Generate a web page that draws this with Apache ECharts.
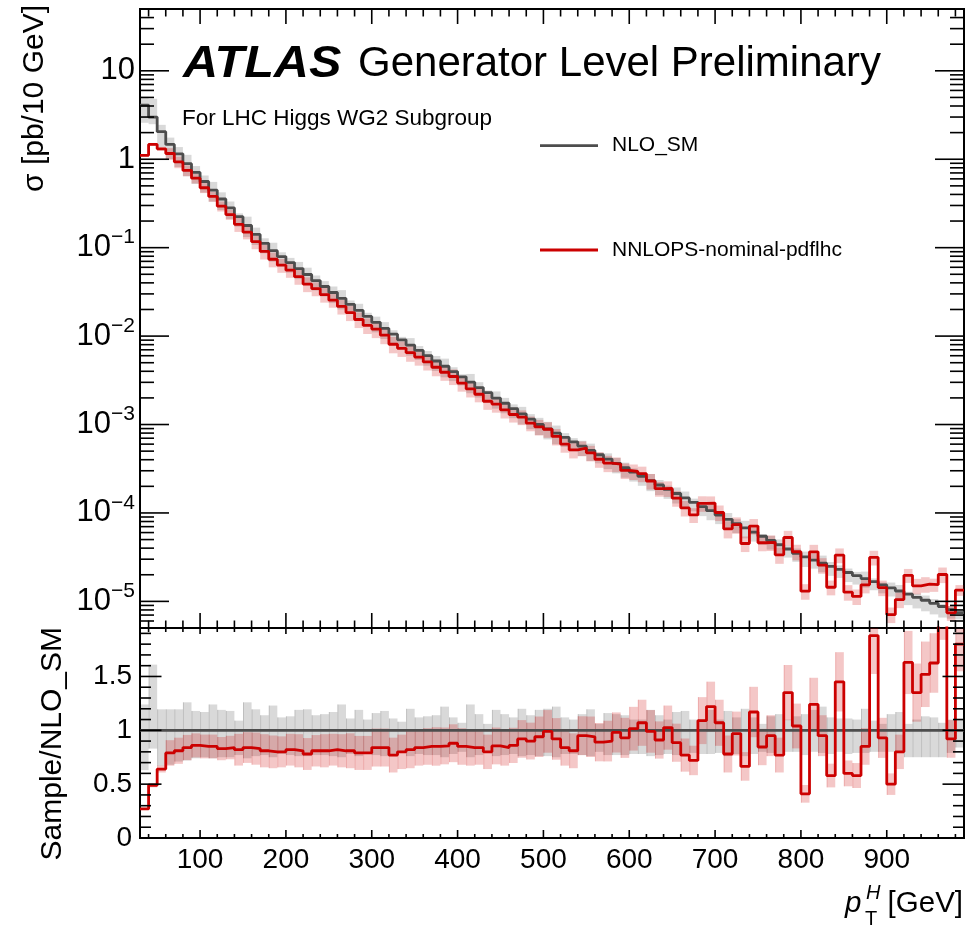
<!DOCTYPE html>
<html><head><meta charset="utf-8">
<script src="https://cdn.jsdelivr.net/npm/echarts@6/dist/echarts.min.js"></script>
<style>html,body{margin:0;padding:0;background:#fff}#c{width:969px;height:927px}</style>
</head><body><div id="c"></div>
<script>
// ---------------- data ----------------
const xMin = 30, xMax = 990, binWidth = 10;
// NLO_SM cross section per 10 GeV bin [pb/10 GeV], bins 30-40 ... 980-990
const nloSM = [4.1,3.0,2.05,1.47,1.15,0.89,0.71,0.56,0.447,0.355,
  0.282,0.224,0.178,0.141,0.112,0.0925,0.0792,0.0678,0.058,0.0497,
  0.0425,0.0364,0.0311,0.0267,0.0228,0.0195,0.0167,0.0143,0.0122,0.0105,
  0.00908,0.00791,0.00689,0.0060,0.00523,0.00456,0.00397,0.00346,0.00301,0.00262,
  0.00229,0.00199,0.00174,0.00151,0.00132,0.00115,0.00100,0.000893,0.000798,0.000714,
  0.000638,0.00057,0.000509,0.000455,0.000407,0.000364,0.000325,0.00029,0.00026,0.000232,
  0.000207,0.000185,0.000166,0.000148,0.000132,0.000118,0.000106,0.0000946,0.0000847,0.0000759,
  0.0000679,0.0000608,0.0000545,0.0000488,0.0000437,0.0000391,0.000035,0.0000318,0.0000293,0.000027,
  0.0000249,0.000023,0.0000212,0.0000196,0.0000181,0.0000167,0.0000154,0.0000142,0.0000131,0.0000121,
  0.0000111,0.0000103,0.0000095,0.00000875,0.00000807,0.00000745];
// NNLOPS-nominal-pdflhc / NLO_SM (lower panel)
const ratioNNLOPS = [0.27,0.49,0.64,0.79,0.81,0.84,0.86,0.85,0.85,0.83,
  0.84,0.82,0.84,0.83,0.81,0.80,0.80,0.82,0.81,0.78,
  0.81,0.81,0.82,0.81,0.81,0.79,0.79,0.84,0.84,0.77,
  0.80,0.82,0.84,0.85,0.85,0.855,0.88,0.85,0.84,0.84,
  0.80,0.855,0.84,0.86,0.92,0.90,0.94,0.99,0.92,0.84,
  0.81,0.95,0.94,0.89,0.90,0.98,0.93,1.015,1.07,0.99,
  0.91,1.025,0.885,0.77,0.72,1.09,1.22,1.07,0.78,0.97,
  0.665,1.17,0.845,0.95,0.77,1.35,1.04,0.41,1.24,0.95,
  0.58,1.45,0.60,0.58,0.85,1.88,0.93,0.50,0.80,1.63,
  1.35,1.52,1.625,2.3,0.92,1.80];
// NLO_SM uncertainty band, relative to NLO_SM (upper / lower edge)
const nloBandUp = [1.24,1.61,1.195,1.195,1.195,1.26,1.18,1.17,1.24,1.19,
  1.18,1.09,1.26,1.195,1.14,1.23,1.12,1.13,1.19,1.195,
  1.14,1.15,1.17,1.24,1.11,1.19,1.10,1.16,1.18,1.11,
  1.08,1.20,1.12,1.13,1.14,1.22,1.12,1.07,1.24,1.15,
  1.06,1.19,1.15,1.12,1.20,1.14,1.19,1.20,1.22,1.12,
  1.10,1.15,1.195,1.06,1.16,1.15,1.14,1.10,1.10,1.19,
  1.14,1.10,1.17,1.18,1.10,1.10,1.19,1.10,1.18,1.12,
  1.20,1.12,1.06,1.13,1.15,1.10,1.13,1.15,1.19,1.22,
  1.12,1.11,1.11,1.10,1.20,1.09,1.06,1.15,1.17,1.06,
  1.10,1.13,1.12,1.07,1.10,1.10];
const nloBandDown = [0.63,0.83,0.67,0.68,0.71,0.72,0.74,0.75,0.74,0.75,
  0.75,0.77,0.74,0.76,0.77,0.75,0.78,0.77,0.76,0.76,
  0.77,0.77,0.76,0.75,0.78,0.76,0.78,0.77,0.76,0.78,
  0.79,0.76,0.78,0.77,0.77,0.75,0.78,0.80,0.75,0.77,
  0.80,0.76,0.77,0.78,0.76,0.77,0.76,0.76,0.75,0.78,
  0.78,0.77,0.76,0.80,0.77,0.77,0.77,0.78,0.78,0.76,
  0.77,0.78,0.77,0.78,0.79,0.78,0.78,0.79,0.76,0.78,
  0.76,0.78,0.80,0.79,0.79,0.80,0.80,0.77,0.80,0.79,
  0.78,0.80,0.78,0.79,0.79,0.80,0.80,0.80,0.80,0.75,
  0.75,0.75,0.75,0.75,0.79,0.84];
// NNLOPS relative uncertainty
const nnlopsRelErr = [0.03,0.04,0.05,0.15,0.15,0.14,0.13,0.13,0.13,0.13,
  0.13,0.18,0.17,0.18,0.19,0.19,0.18,0.18,0.19,0.19,
  0.18,0.19,0.18,0.19,0.20,0.20,0.20,0.21,0.21,0.21,
  0.20,0.21,0.20,0.20,0.21,0.20,0.20,0.20,0.20,0.19,
  0.20,0.20,0.20,0.19,0.19,0.19,0.20,0.20,0.21,0.20,
  0.20,0.19,0.20,0.20,0.21,0.19,0.20,0.20,0.20,0.20,
  0.19,0.20,0.20,0.20,0.19,0.20,0.19,0.20,0.22,0.21,
  0.20,0.20,0.20,0.20,0.21,0.19,0.20,0.20,0.20,0.20,
  0.19,0.19,0.20,0.20,0.20,0.19,0.20,0.20,0.20,0.18,
  0.20,0.20,0.17,0.20,0.19,0.14];
const xTickLabels = [100,200,300,400,500,600,700,800,900];
const ratioTickLabels = [0,0.5,1,1.5];
const seriesNames = ['NLO_SM','NNLOPS-nominal-pdflhc'];

// ---------------- derived ----------------
const nBins = nloSM.length;
const edges = Array.from({length: nBins + 1}, (_, i) => xMin + i * binWidth);
const nnlops = nloSM.map((v, i) => v * ratioNNLOPS[i]);
const stepData = vals => edges.map((e, i) => [e, vals[Math.min(i, nBins - 1)]]);
const FONT = 'Liberation Sans, Arial, Helvetica, sans-serif';
const GREY = '#4d4d4d', RED = '#cc0000';

function bandSeries(gi, lo, hi, color, z, edgeColor) {
  return {
    type: 'custom', xAxisIndex: gi, yAxisIndex: gi, z: z, silent: true,
    data: lo.map((l, i) => [edges[i], edges[i + 1], l, hi[i]]),
    encode: {x: [0, 1], y: [2, 3]},
    renderItem: (params, api) => {
      const p0 = api.coord([api.value(0), api.value(3)]);
      const p1 = api.coord([api.value(1), api.value(2)]);
      const cs = params.coordSys;
      const r = echarts.graphic.clipRectByRect(
        {x: p0[0], y: p0[1], width: p1[0] - p0[0], height: p1[1] - p0[1]},
        {x: cs.x, y: cs.y, width: cs.width, height: cs.height});
      if (!r) return null;
      const ch = [{type: 'rect', shape: r, style: {fill: color}}];
      if (edgeColor) ch.push({type: 'line', shape: {x1: r.x + 0.5, y1: r.y, x2: r.x + 0.5, y2: r.y + r.height}, style: {stroke: edgeColor, lineWidth: 1}});
      return {type: 'group', children: ch};
    }
  };
}
function stepSeries(gi, name, vals, color, z) {
  return {
    type: 'line', name: name, xAxisIndex: gi, yAxisIndex: gi, step: 'end', z: z,
    symbol: 'none', data: stepData(vals), silent: true,
    lineStyle: {color: color, width: 2.8}, itemStyle: {color: color}
  };
}
// tick marks drawn through the axes' scales
function tickSeries(gi, yRef, cfg) {
  return {
    type: 'custom', xAxisIndex: gi, yAxisIndex: gi, z: 20, silent: true, clip: false,
    data: [[xMin, yRef]],
    renderItem: (params, api) => {
      const cs = params.coordSys;
      const L = cs.x, R = cs.x + cs.width, T = cs.y, B = cs.y + cs.height;
      const ch = [];
      const ln = (x1, y1, x2, y2) => ch.push({type: 'line', shape: {x1, y1, x2, y2}, style: {stroke: '#000', lineWidth: 1.6}});
      cfg.xTicks.forEach(([v, major]) => {
        const x = api.coord([v, yRef])[0];
        const lb = major ? cfg.xB[0] : cfg.xB[1], lt = major ? cfg.xT[0] : cfg.xT[1];
        if (lb) ln(x, B, x, B - lb);
        if (lt) ln(x, T, x, T + lt);
      });
      cfg.yTicks.forEach(([v, major]) => {
        const y = api.coord([xMin, v])[1];
        const l = major ? cfg.yL[0] : cfg.yL[1];
        const r = major ? cfg.yR[0] : cfg.yR[1];
        ln(L, y, L + l, y);
        ln(R, y, R - r, y);
      });
      return {type: 'group', children: ch};
    }
  };
}
const xTicks = [];
for (let v = 40; v <= 980; v += 20) xTicks.push([v, v % 100 === 0]);
const logTicks = [];
for (let e = -6; e <= 1; e++) for (let k = 1; k <= 9; k++) {
  const v = k * Math.pow(10, e);
  if (v >= 5e-6 * 0.999 && v <= 50 * 1.001) logTicks.push([v, k === 1]);
}
const ratioTicks = [];
for (let i = 1; i <= 19; i++) ratioTicks.push([i / 10, i % 5 === 0]);

function logLabel(v) {
  const lg = Math.log10(v), e = Math.round(lg);
  if (Math.abs(lg - e) > 0.01) return '';
  if (e === 0) return '{b|1}';
  if (e === 1) return '{b|10}';
  return '{b|10}{s|' + (e < 0 ? '\u2212' : '') + Math.abs(e) + '}';
}

const chart = echarts.init(document.getElementById('c'), null, {renderer: 'canvas'});
const gridL = 140, gridR = 5;
chart.setOption({
  animation: false,
  backgroundColor: '#fff',
  grid: [
    {left: gridL, right: gridR, top: 9, height: 619, show: true, borderColor: '#000', borderWidth: 2, backgroundColor: 'transparent', containLabel: false},
    {left: gridL, right: gridR, top: 628, height: 210, show: true, borderColor: '#000', borderWidth: 2, backgroundColor: 'transparent', containLabel: false}
  ],
  xAxis: [
    {gridIndex: 0, type: 'value', min: xMin, max: xMax, minInterval: 100, maxInterval: 100,
     axisLine: {show: false}, axisTick: {show: false}, axisLabel: {show: false}, splitLine: {show: false}},
    {gridIndex: 1, type: 'value', min: xMin, max: xMax, minInterval: 100, maxInterval: 100,
     axisLine: {show: false}, axisTick: {show: false}, splitLine: {show: false},
     axisLabel: {show: true, fontSize: 28, fontFamily: FONT, color: '#000', margin: 8,
       showMinLabel: false, showMaxLabel: false,
       formatter: v => (xTickLabels.indexOf(Math.round(v)) >= 0 ? String(Math.round(v)) : '')}}
  ],
  yAxis: [
    {gridIndex: 0, type: 'log', logBase: 10, min: 5e-6, max: 50,
     axisLine: {show: false}, axisTick: {show: false}, splitLine: {show: false},
     axisLabel: {show: true, margin: 5, showMinLabel: false, showMaxLabel: false, formatter: logLabel,
       rich: {b: {fontSize: 31, fontFamily: FONT, color: '#000', lineHeight: 31, verticalAlign: 'bottom'},
              s: {fontSize: 21, fontFamily: FONT, color: '#000', lineHeight: 21, padding: [0, 0, 15, 0], verticalAlign: 'bottom'}}}},
    {gridIndex: 1, type: 'value', min: 0, max: 1.95, interval: 0.5,
     axisLine: {show: false}, axisTick: {show: false}, splitLine: {show: false},
     axisLabel: {show: true, fontSize: 28, fontFamily: FONT, color: '#000', margin: 8, showMaxLabel: false,
       formatter: v => (ratioTickLabels.indexOf(v) >= 0 ? String(v) : '')}}
  ],
  series: [
    // upper panel
    bandSeries(0, nloSM.map((v, i) => v * nloBandDown[i]), nloSM.map((v, i) => v * nloBandUp[i]), 'rgba(0,0,0,0.15)', 1),
    bandSeries(0, nnlops.map((v, i) => v * (1 - nnlopsRelErr[i])), nnlops.map((v, i) => v * (1 + nnlopsRelErr[i])), 'rgba(204,0,0,0.22)', 2),
    stepSeries(0, seriesNames[0], nloSM, GREY, 3),
    stepSeries(0, seriesNames[1], nnlops, RED, 4),
    tickSeries(0, 1, {xTicks: xTicks, xB: [15, 7.5], xT: [15, 7.5], yTicks: logTicks, yL: [29, 14], yR: [29, 14]}),
    // ratio panel
    bandSeries(1, nloBandDown, nloBandUp, 'rgba(0,0,0,0.15)', 1, 'rgba(0,0,0,0.12)'),
    bandSeries(1, ratioNNLOPS.map((r, i) => r * (1 - nnlopsRelErr[i])), ratioNNLOPS.map((r, i) => r * (1 + nnlopsRelErr[i])), 'rgba(204,0,0,0.22)', 2, 'rgba(204,0,0,0.15)'),
    stepSeries(1, seriesNames[0] + ' ratio', nloSM.map(() => 1), GREY, 3),
    stepSeries(1, seriesNames[1] + ' ratio', ratioNNLOPS, RED, 4),
    tickSeries(1, 1, {xTicks: xTicks, xB: [8, 4], xT: [6, 4], yTicks: ratioTicks, yL: [21.5, 11], yR: [21.5, 11]})
  ],
  graphic: [
    {type: 'text', x: 183, y: 64.3, scaleX: 1.08, style: {text: 'ATLAS', fontSize: 45, fontFamily: FONT, fontWeight: 'bold', fontStyle: 'italic', fill: '#000', verticalAlign: 'middle'}},
    {type: 'text', x: 358, y: 64.3, style: {text: 'Generator Level Preliminary', fontSize: 42, fontFamily: FONT, fill: '#000', verticalAlign: 'middle'}},
    {type: 'text', x: 182, y: 119, style: {text: 'For LHC Higgs WG2 Subgroup', fontSize: 22.5, fontFamily: FONT, fill: '#000', verticalAlign: 'middle'}},
    {type: 'line', shape: {x1: 540, y1: 145.7, x2: 598, y2: 145.7}, style: {stroke: GREY, lineWidth: 2.8}},
    {type: 'text', x: 612, y: 145.7, style: {text: seriesNames[0], fontSize: 21, fontFamily: FONT, fill: '#000', verticalAlign: 'middle'}},
    {type: 'line', shape: {x1: 540, y1: 250, x2: 598, y2: 250}, style: {stroke: RED, lineWidth: 2.8}},
    {type: 'text', x: 612, y: 250, style: {text: seriesNames[1], fontSize: 21, fontFamily: FONT, fill: '#000', verticalAlign: 'middle'}},
    // y titles
    {type: 'text', x: 35, y: 5, rotation: Math.PI / 2, style: {text: '\u03c3 [pb/10 GeV]', fontSize: 30, fontFamily: FONT, fill: '#000', align: 'right', verticalAlign: 'middle'}},
    {type: 'text', x: 53, y: 627, rotation: Math.PI / 2, style: {text: 'Sample/NLO_SM', fontSize: 30, fontFamily: FONT, fill: '#000', align: 'right', verticalAlign: 'middle'}},
    // x title
    {type: 'text', x: 845, y: 904, style: {text: 'p', fontSize: 29.5, fontFamily: FONT, fontStyle: 'italic', fill: '#000', verticalAlign: 'middle'}},
    {type: 'text', x: 866, y: 893, style: {text: 'H', fontSize: 20, fontFamily: FONT, fontStyle: 'italic', fill: '#000', verticalAlign: 'middle'}},
    {type: 'text', x: 865, y: 919, style: {text: 'T', fontSize: 20, fontFamily: FONT, fill: '#000', verticalAlign: 'middle'}},
    {type: 'text', x: 963, y: 904, style: {text: '[GeV]', fontSize: 29.5, fontFamily: FONT, fill: '#000', align: 'right', verticalAlign: 'middle'}}
  ]
});
</script></body></html>
